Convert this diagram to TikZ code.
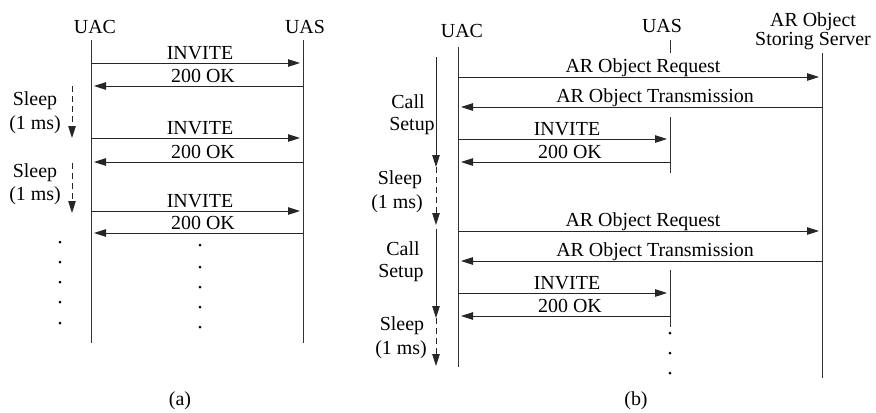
\documentclass[tikz,border=0pt]{standalone}
\usepackage{fontspec}
\setmainfont{Liberation Serif}
\usetikzlibrary{arrows.meta}
\begin{document}
\begin{tikzpicture}[x=1bp,y=-1bp,
  life/.style={draw=black!80, line width=0.9bp},
  msg/.style={draw=black!85, line width=0.9bp, shorten >=3bp, -{Triangle[length=12bp,width=7.5bp]}},
  vmsg/.style={draw=black!85, line width=0.9bp, -{Triangle[length=12bp,width=7.5bp]}},
  sleeparr/.style={vmsg, dash pattern=on 6bp off 4bp},
  lbl/.style={anchor=base, inner sep=0pt, font=\fontsize{20}{22}\selectfont},
  dotmark/.style={circle, fill=black, inner sep=0pt, minimum size=3bp}
]
\useasboundingbox (0,0) rectangle (876,412);

% ---------------- (a) ----------------
\node[lbl] (uacA) at (95,33) {UAC};
\node[lbl] (uasA) at (305,33) {UAS};
\coordinate (uacAt) at (91,40);
\coordinate (uacAb) at (91,343);
\coordinate (uasAt) at (303,40);
\coordinate (uasAb) at (303,343);
\draw[life] (uacAt) -- (uacAb);
\draw[life] (uasAt) -- (uasAb);

\foreach \i/\yi/\yo in {1/63/86, 2/138/162, 3/211/233} {
  \coordinate (aI\i s) at (91,\yi);
  \coordinate (aI\i e) at (303,\yi);
  \coordinate (aO\i s) at (303,\yo);
  \coordinate (aO\i e) at (91,\yo);
  \draw[msg] (aI\i s) -- (aI\i e);
  \draw[msg] (aO\i s) -- (aO\i e);
  \node[lbl] (aIl\i) at (200,\yi-4) {INVITE};
  \node[lbl] (aOl\i) at (203,\yo-4) {200 OK};
}

\coordinate (aS1s) at (72,86);
\coordinate (aS1e) at (72,138);
\coordinate (aS2s) at (72,163);
\coordinate (aS2e) at (72,213);
\draw[sleeparr] (aS1s) -- (aS1e);
\draw[sleeparr] (aS2s) -- (aS2e);
\node[lbl] (aSl1) at (35,105) {Sleep};
\node[lbl] (aSm1) at (35,129) {(1 ms)};
\node[lbl] (aSl2) at (35,177) {Sleep};
\node[lbl] (aSm2) at (35,200) {(1 ms)};

\foreach \k/\y in {1/242,2/262,3/282,4/302,5/323} {
  \node[dotmark] (aDL\k) at (60,\y) {};
}
\foreach \k/\y in {1/245,2/267,3/287,4/307,5/327} {
  \node[dotmark] (aDM\k) at (200,\y) {};
}
\node[lbl] (capA) at (180,405) {(a)};

% ---------------- (b) ----------------
\node[lbl] (uacB) at (462,37) {UAC};
\node[lbl] (uasB) at (662,32) {UAS};
\node[lbl] (srv1) at (813,26) {AR Object};
\node[lbl] (srv2) at (813,45) {Storing Server};

\coordinate (uacBt) at (458,47);
\coordinate (uacBb) at (458,367);
\draw[life] (uacBt) -- (uacBb);
\coordinate (uasBk1) at (670,40);
\coordinate (uasBk2) at (670,53);
\draw[life] (uasBk1) -- (uasBk2);
\coordinate (uasB1t) at (670,117);
\coordinate (uasB1b) at (670,173);
\draw[life] (uasB1t) -- (uasB1b);
\coordinate (uasB2t) at (670,270);
\coordinate (uasB2b) at (670,327);
\draw[life] (uasB2t) -- (uasB2b);
\coordinate (srvt) at (822,53);
\coordinate (srvb) at (822,378);
\draw[life] (srvt) -- (srvb);

\foreach \k/\y in {1/333,2/353,3/373} {
  \node[dotmark] (bD\k) at (670,\y) {};
}

\foreach \i/\yr/\yt/\yi/\yo in {1/77/107/139/162, 2/231/261/293/316} {
  \coordinate (bR\i s) at (458,\yr);
  \coordinate (bR\i e) at (822,\yr);
  \coordinate (bT\i s) at (822,\yt);
  \coordinate (bT\i e) at (458,\yt);
  \coordinate (bI\i s) at (458,\yi);
  \coordinate (bI\i e) at (670,\yi);
  \coordinate (bO\i s) at (670,\yo);
  \coordinate (bO\i e) at (458,\yo);
  \draw[msg] (bR\i s) -- (bR\i e);
  \draw[msg] (bT\i s) -- (bT\i e);
  \draw[msg] (bI\i s) -- (bI\i e);
  \draw[msg] (bO\i s) -- (bO\i e);
  \node[lbl] (bRl\i) at (643,\yr-5) {AR Object Request};
  \node[lbl] (bTl\i) at (655,\yt-5) {AR Object Transmission};
  \node[lbl] (bIl\i) at (567,\yi-4) {INVITE};
  \node[lbl] (bOl\i) at (570,\yo-4) {200 OK};
}

\coordinate (bC1s) at (436,57);
\coordinate (bC1e) at (436,167);
\coordinate (bS1e) at (436,225);
\coordinate (bC2s) at (436,229);
\coordinate (bC2e) at (436,318);
\coordinate (bS2e) at (436,366);
\draw[vmsg] (bC1s) -- (bC1e);
\draw[sleeparr] (bC1e) -- (bS1e);
\draw[vmsg] (bC2s) -- (bC2e);
\draw[sleeparr] (bC2e) -- (bS2e);

\node[lbl] (bCl1) at (408,108) {Call};
\node[lbl] (bSu1) at (412,130) {Setup};
\node[lbl] (bSl1) at (400,184) {Sleep};
\node[lbl] (bSm1) at (397,208) {(1 ms)};
\node[lbl] (bCl2) at (403,255) {Call};
\node[lbl] (bSu2) at (401,277) {Setup};
\node[lbl] (bSl2) at (402,330) {Sleep};
\node[lbl] (bSm2) at (401,354) {(1 ms)};

\node[lbl] (capB) at (636,405) {(b)};
\end{tikzpicture}
\end{document}
